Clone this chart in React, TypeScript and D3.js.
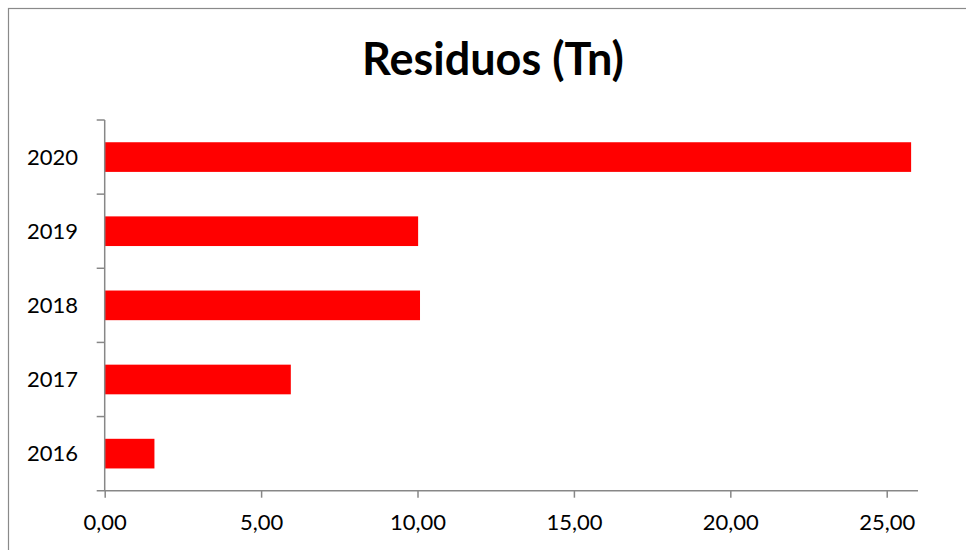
import React, { useEffect, useRef } from 'react';
import * as d3 from 'd3';

const years = ['2020', '2019', '2018', '2017', '2016'];
const values = [25.78, 10.02, 10.08, 5.95, 1.59];
const xTicks = [0, 5, 10, 15, 20, 25];

const W = 966;
const H = 550;

export default function App() {
  const svgRef = useRef<SVGSVGElement>(null);

  useEffect(() => {
    if (!svgRef.current) return;
    const svg = d3.select(svgRef.current);
    svg.selectAll('*').remove();

    const locale = d3.formatLocale({ decimal: ',', thousands: '.', grouping: [3], currency: ['', ' €'] });
    const fmt = locale.format(',.2f');

    const left = 104.7, right = 918, top = 120, bottom = 490.7;

    const x = d3.scaleLinear().domain([0, 26]).range([left, right]);
    const y = d3.scaleBand<string>().domain(years).range([top, bottom]).paddingInner(0.6).paddingOuter(0.3);

    // chart border
    svg.append('rect')
      .attr('x', 8.5).attr('y', 8.5)
      .attr('width', W).attr('height', H)
      .attr('fill', 'white')
      .attr('stroke', '#8a8a8a')
      .attr('stroke-width', 1.2);

    // title
    svg.append('text')
      .attr('x', 493).attr('y', 75)
      .attr('text-anchor', 'middle')
      .style('font-family', 'Lato, "Open Sans", sans-serif')
      .style('font-weight', 'bold')
      .style('font-size', '45px')
      .attr('fill', '#000')
      .text('Residuos (Tn)');

    // bars
    svg.append('g').selectAll('rect')
      .data(years)
      .enter().append('rect')
      .attr('x', x(0))
      .attr('y', d => y(d)!)
      .attr('width', (d, i) => x(values[i]) - x(0))
      .attr('height', y.bandwidth())
      .attr('fill', '#ff0000');

    // x axis
    const xg = svg.append('g')
      .attr('transform', `translate(0,${bottom})`)
      .call(d3.axisBottom(x).tickValues(xTicks).tickFormat(d => fmt(d as number)).tickSize(7).tickSizeOuter(0).tickPadding(17));
    xg.select('.domain').remove();
    xg.append('line')
      .attr('x1', left - 8).attr('x2', right)
      .attr('y1', 0).attr('y2', 0)
      .attr('stroke', '#878787').attr('stroke-width', 1.5);
    xg.selectAll('.tick line').attr('stroke', '#878787').attr('stroke-width', 1.5);
    xg.selectAll('.tick text')
      .style('font-family', 'Lato, "Open Sans", sans-serif')
      .style('font-size', '22px')
      .attr('fill', '#000');

    // y axis
    const yg = svg.append('g');
    yg.append('line')
      .attr('x1', left).attr('x2', left)
      .attr('y1', top).attr('y2', bottom)
      .attr('stroke', '#878787').attr('stroke-width', 1.5);
    const step = y.step();
    yg.selectAll('.ytick')
      .data(d3.range(years.length))
      .enter().append('line')
      .attr('x1', left - 8).attr('x2', left)
      .attr('y1', i => top + i * step).attr('y2', i => top + i * step)
      .attr('stroke', '#878787').attr('stroke-width', 1.5);
    yg.selectAll('.ylab')
      .data(years)
      .enter().append('text')
      .attr('x', 78)
      .attr('y', d => y(d)! + y.bandwidth() / 2)
      .attr('dy', '0.35em')
      .attr('text-anchor', 'end')
      .style('font-family', 'Lato, "Open Sans", sans-serif')
      .style('font-size', '22px')
      .attr('fill', '#000')
      .text(d => d);
  }, []);

  return (
    <svg ref={svgRef} width={W} height={H} style={{ position: 'absolute', left: 0, top: 0 }} />
  );
}
